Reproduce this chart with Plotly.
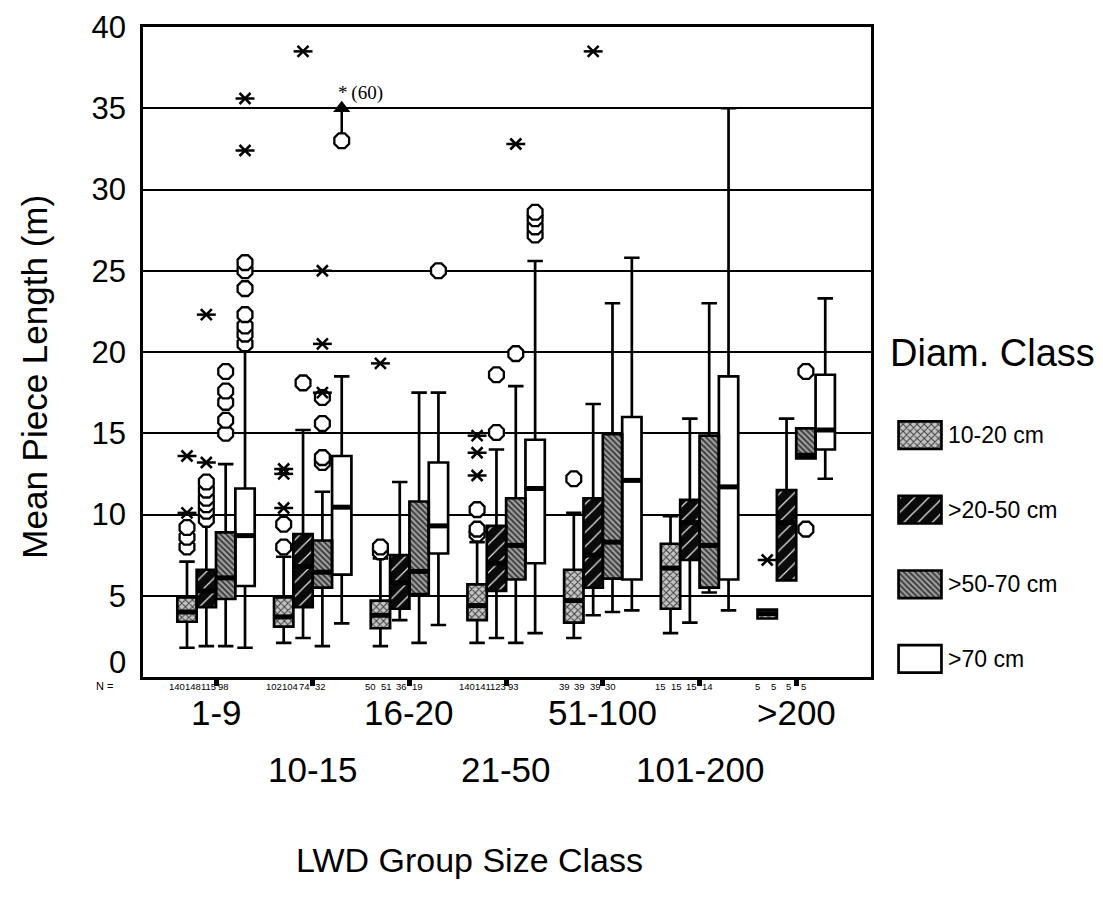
import plotly.graph_objects as go

# LWD group size classes (x categories) and piece-diameter classes (series)
groups = ["1-9", "10-15", "16-20", "21-50", "51-100", "101-200", ">200"]
classes = ["10-20 cm", ">20-50 cm", ">50-70 cm", ">70 cm"]
y_ticks = [0, 5, 10, 15, 20, 25, 30, 35, 40]

# Sample sizes per group, one entry per diameter class
n_counts = [
    [140, 148, 115, 98],
    [102, 104, 74, 32],
    [50, 51, 36, 19],
    [140, 141, 123, 93],
    [39, 39, 39, 30],
    [15, 15, 15, 14],
    [5, 5, 5, 5],
]

# 10-20 cm
c1_low = [1.8, 2.1, 1.9, 2.1, 2.4, 2.7, 3.6]
c1_q1 = [3.4, 3.1, 3.0, 3.5, 3.35, 4.2, 3.6]
c1_med = [4.0, 3.7, 3.8, 4.4, 4.7, 6.7, 3.9]
c1_q3 = [4.9, 4.9, 4.7, 5.7, 6.6, 8.2, 4.15]
c1_high = [7.1, 7.4, 7.3, 8.3, 10.1, 9.9, 4.15]
c1_out = [[8.0, 8.6, 9.2], [8.0, 9.4], [7.7, 8.0], [8.8, 9.1, 10.3], [12.2], [], []]
c1_ext = [[10.1, 13.6], [10.4, 12.5, 12.8], [19.3], [12.4, 13.8, 14.85], [], [], [7.2]]

# >20-50 cm
c2_low = [1.9, 2.4, 3.5, 2.4, 3.8, 3.35, 5.95]
c2_q1 = [4.3, 4.3, 4.2, 5.3, 5.5, 7.2, 5.95]
c2_med = [5.3, 6.8, 5.8, 7.0, 7.5, 9.5, 9.5]
c2_q3 = [6.6, 8.8, 7.5, 9.3, 11.0, 10.9, 11.5]
c2_high = [9.5, 15.2, 12.0, 14.0, 16.8, 15.9, 15.9]
c2_out = [[9.7, 10.2, 10.6, 11.0, 11.5, 12.0], [18.1], [], [15.05, 18.6], [], [], []]
c2_ext = [[13.2, 22.3], [38.5], [], [], [38.5], [], []]

# >50-70 cm
c3_low = [1.9, 1.9, 2.1, 2.1, 4.0, 5.2, 13.45]
c3_q1 = [4.8, 5.5, 5.1, 6.0, 6.05, 5.5, 13.45]
c3_med = [6.1, 6.45, 6.5, 8.1, 8.3, 8.1, 13.65]
c3_q3 = [8.9, 8.4, 10.8, 11.0, 14.95, 14.85, 15.3]
c3_high = [13.1, 11.4, 17.5, 17.9, 23.0, 23.0, 15.3]
c3_out = [[15.0, 15.8, 16.9, 17.6, 18.8], [13.2, 13.5, 15.6, 17.2], [], [19.9], [], [], [9.1, 18.8]]
c3_ext = [[], [17.5, 20.5, 25.0], [], [32.8], [], [], []]

# >70 cm
c4_low = [1.8, 3.3, 3.2, 2.7, 4.1, 4.1, 12.2]
c4_q1 = [5.6, 6.3, 7.6, 7.0, 6.0, 6.0, 14.0]
c4_med = [8.7, 10.45, 9.3, 11.6, 12.1, 11.7, 15.2]
c4_q3 = [11.6, 13.6, 13.2, 14.6, 16.0, 18.5, 18.6]
c4_high = [20.3, 18.5, 17.5, 25.6, 25.8, 35.0, 23.3]
c4_out = [[20.5, 21.1, 21.6, 22.3, 23.9, 25.0, 25.5], [33.0], [25.0], [27.2, 27.7, 28.2, 28.6], [], [], []]
c4_ext = [[32.4, 35.6], [], [], [], [], [], []]

# Off-scale extreme for ">70 cm" in group "10-15": its value and the ceiling it is pinned to
offscale_group = 1
offscale_value = 60
Y_MAX = 40
Y_CLIP = 35

stats = [
    (c1_low, c1_q1, c1_med, c1_q3, c1_high, c1_out, c1_ext),
    (c2_low, c2_q1, c2_med, c2_q3, c2_high, c2_out, c2_ext),
    (c3_low, c3_q1, c3_med, c3_q3, c3_high, c3_out, c3_ext),
    (c4_low, c4_q1, c4_med, c4_q3, c4_high, c4_out, c4_ext),
]

# Fill patterns for each diameter class
patterns = [
    dict(shape="x", bgcolor="#c4c4c4", fgcolor="#3c3c3c", size=5, solidity=0.35, fillmode="replace"),
    dict(shape="/", bgcolor="#0a0a0a", fgcolor="#e8e8e8", size=10, solidity=0.12, fillmode="replace"),
    dict(shape="\\", bgcolor="#a0a0a0", fgcolor="#333333", size=4, solidity=0.45, fillmode="replace"),
    dict(shape="", bgcolor="white", fgcolor="white", size=6, solidity=0.1, fillmode="replace"),
]

BOX_STEP = 0.2
BOX_W = 0.2
FONT = "Liberation Sans, Arial, sans-serif"
NARROW = "Liberation Sans Narrow, Arial Narrow, sans-serif"


def pos(g, s):
    return g + (s - 1.5) * BOX_STEP


fig = go.Figure()

for s, (low, q1, med, q3, high, outl, ext) in enumerate(stats):
    xs = [pos(g, s) for g in range(len(groups))]
    # patterned box body
    fig.add_trace(go.Bar(
        x=xs, y=[b - a for a, b in zip(q1, q3)], base=q1, width=BOX_W,
        marker=dict(color="white", pattern=patterns[s], line=dict(width=0)),
        showlegend=False, hoverinfo="skip",
    ))
    # outline, whiskers and caps
    fig.add_trace(go.Box(
        x=xs, q1=q1, median=med, q3=q3, lowerfence=low, upperfence=high,
        width=BOX_W, whiskerwidth=0.8, fillcolor="rgba(0,0,0,0)",
        line=dict(color="black", width=2.7), showlegend=False, boxpoints=False,
    ))
    # heavy median bar
    fig.add_trace(go.Scatter(
        x=xs, y=med, mode="markers",
        marker=dict(symbol="line-ew", size=13.2, color="black", line=dict(color="black", width=5)),
        showlegend=False, hoverinfo="skip",
    ))

# outliers (octagons) and extremes (asterisks)
ox, oy, ex, ey = [], [], [], []
for s, (low, q1, med, q3, high, outl, ext) in enumerate(stats):
    for g in range(len(groups)):
        for v in outl[g]:
            ox.append(pos(g, s)); oy.append(v)
        for v in ext[g]:
            ex.append(pos(g, s)); ey.append(v)

# off-scale marker: stem from the last plotted outlier to the ceiling arrow
ax_x = pos(offscale_group, 3)
arrow_y = min(offscale_value, Y_CLIP)
fig.add_trace(go.Scatter(
    x=[ax_x, ax_x], y=[max(c4_out[offscale_group]), arrow_y], mode="lines",
    line=dict(color="black", width=2.5), showlegend=False, hoverinfo="skip",
))
fig.add_trace(go.Scatter(
    x=[ax_x], y=[arrow_y], mode="markers",
    marker=dict(symbol="triangle-up", size=15, color="black"),
    showlegend=False, hoverinfo="skip",
))

fig.add_trace(go.Scatter(
    x=ox, y=oy, mode="markers",
    marker=dict(symbol="octagon", size=16, color="white", line=dict(color="black", width=2.3)),
    showlegend=False, hoverinfo="skip",
))
fig.add_trace(go.Scatter(
    x=ex, y=ey, mode="markers",
    marker=dict(symbol="x-thin-open", size=11, color="black", line=dict(color="black", width=2.5)),
    showlegend=False, hoverinfo="skip",
))
fig.add_trace(go.Scatter(
    x=ex, y=ey, mode="markers",
    marker=dict(symbol="line-ew-open", size=13.5, color="black", line=dict(color="black", width=2.5)),
    showlegend=False, hoverinfo="skip",
))

# legend swatches on their own small axes
for s, name in enumerate(classes):
    fig.add_trace(go.Bar(
        x=[1], y=[s], base=[0], orientation="h", width=0.37,
        marker=dict(color="white", pattern=patterns[s], line=dict(color="black", width=2.7)),
        xaxis="x2", yaxis="y2", showlegend=False, hoverinfo="skip", name=name,
    ))

annotations = []
# two-row category labels
for g, lab in enumerate(groups):
    annotations.append(dict(
        x=g, y=-0.054 if g % 2 == 0 else -0.142, xref="x", yref="paper",
        text=lab, showarrow=False, font=dict(family=FONT, size=35, color="black"),
        xanchor="center", yanchor="middle",
    ))
# the zero label sits slightly above the axis line
annotations.append(dict(
    x=0, y=y_ticks[0], xref="paper", yref="y", text=str(y_ticks[0]), showarrow=False,
    font=dict(family=FONT, size=31, color="black"), xanchor="right", yanchor="middle",
    xshift=-15, yshift=15,
))
# sample sizes
annotations.append(dict(
    x=-0.041, y=-0.0145, xref="paper", yref="paper", text="N =", showarrow=False,
    font=dict(family=NARROW, size=11, color="black"), xanchor="center", yanchor="middle",
))
for g, counts in enumerate(n_counts):
    for s, n in enumerate(counts):
        annotations.append(dict(
            x=g - 0.16 + (s - 1.5) * 0.16, y=-0.0145, xref="x", yref="paper",
            text=str(n), showarrow=False, borderpad=0,
            font=dict(family=NARROW, size=9.5, color="black"),
            xanchor="center", yanchor="middle",
        ))
# off-scale value label
annotations.append(dict(
    x=ax_x, y=arrow_y, xref="x", yref="y", text="*\u2009(%d)" % offscale_value,
    showarrow=False, font=dict(family="Liberation Serif, Times New Roman, serif", size=19, color="black"),
    xanchor="left", yanchor="bottom", xshift=-6, yshift=2,
))
# axis titles
annotations.append(dict(
    x=0.344, y=-0.281, xref="paper", yref="paper", text="LWD Group Size Class", showarrow=False,
    font=dict(family=FONT, size=34, color="black"), xanchor="center", yanchor="middle",
))
annotations.append(dict(
    x=-0.1137, y=0.462, xref="paper", yref="paper", text="Mean Piece Length (m)", showarrow=False,
    textangle=-90, font=dict(family=FONT, size=35, color="black"), xanchor="center", yanchor="middle",
))
# legend title and labels
annotations.append(dict(
    x=0.784, y=0.498, xref="paper", yref="paper", text="Diam. Class", showarrow=False,
    font=dict(family=FONT, size=38, color="black"), xanchor="left", yanchor="middle",
))
for s, name in enumerate(classes):
    annotations.append(dict(
        x=0.845, y=s, xref="paper", yref="y2", text=name, showarrow=False,
        font=dict(family=FONT, size=23, color="black"), xanchor="left", yanchor="middle",
    ))

fig.update_layout(
    width=1103, height=913,
    margin=dict(l=143, r=10, t=24, b=236),
    paper_bgcolor="white", plot_bgcolor="white",
    barmode="overlay", boxmode="overlay", showlegend=False,
    font=dict(family=FONT, color="black"),
    annotations=annotations,
    xaxis=dict(
        domain=[0, 0.7663], range=[-0.755, 6.773],
        tickvals=list(range(len(groups))), ticktext=[""] * len(groups),
        ticks="outside", ticklen=6, tickwidth=5, tickcolor="black",
        showgrid=False, zeroline=False,
        showline=True, linecolor="black", linewidth=2.7, mirror=True,
    ),
    yaxis=dict(
        range=[0, Y_MAX], tickvals=y_ticks[1:],
        tickfont=dict(family=FONT, size=31), ticklabelstandoff=8,
        showgrid=True, gridcolor="black", gridwidth=2, zeroline=False,
        showline=True, linecolor="black", linewidth=2.7, mirror=True,
    ),
    xaxis2=dict(domain=[0.7926, 0.8432], range=[-0.06, 1.06], visible=False, anchor="y2"),
    yaxis2=dict(domain=[0.0015, 0.3997], range=[3.23, -0.24], visible=False, anchor="x2"),
)

fig.write_html("out.html")
